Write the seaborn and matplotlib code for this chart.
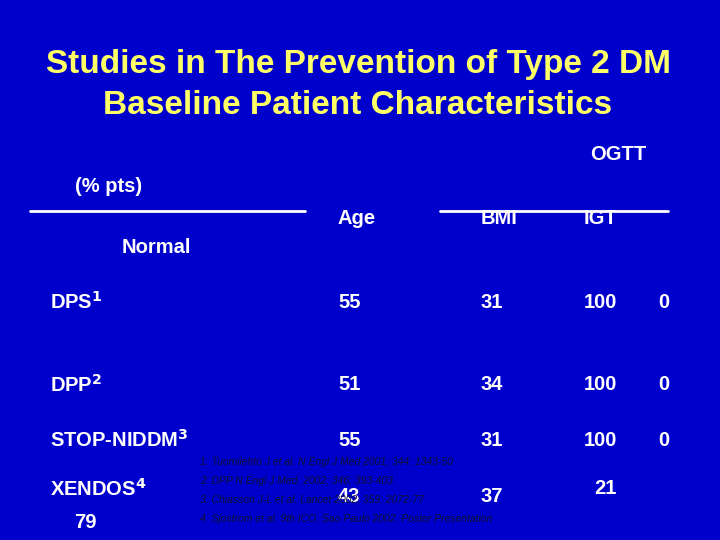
import matplotlib
matplotlib.use("Agg")
import matplotlib.pyplot as plt
import seaborn as sns

sns.set_theme(style="white")
plt.rcParams["font.family"] = "Liberation Sans"

title_lines = ["Studies in The Prevention of Type 2 DM", "Baseline Patient Characteristics"]
columns = ["Age", "BMI", "IGT"]
studies = ["DPS", "DPP", "STOP-NIDDM", "XENDOS"]
refs = ["1", "2", "3", "4"]
age = ["55", "51", "55", "43"]
bmi = ["31", "34", "31", "37"]
igt = ["100", "100", "100", "21"]
normal = ["0", "0", "0", "79"]
footnotes = [
    "1. Tuomilehto J et al. N Engl J Med 2001; 344: 1343-50",
    "2. DPP N Engl J Med. 2002; 346: 393-403",
    "3. Chiasson J-L et al. Lancet 2002; 359: 2072-77",
    "4. Sjostrom et al. 9th ICO, Sao Paulo 2002. Poster Presentation",
]

W, H = 720, 540
fig = plt.figure(figsize=(7.2, 5.4), dpi=100)
fig.patch.set_facecolor("#0000CC")


def px(x, y, s, **kw):
    fig.text(x / W, 1 - y / H, s, **kw)


yellow = "#FFFF66"
for i, t in enumerate(title_lines):
    px(358, 64 + i * 42, t, color=yellow, fontsize=24, fontweight="bold", ha="center", va="center")

body = dict(color="white", fontsize=14.5, va="center", fontweight="bold")
px(590, 155, "OGTT", **body)
px(75, 187, "(% pts)", **body)
px(122, 247, "Normal", **body)
for x, c in zip([338, 481, 584], columns):
    px(x, 218, c, **body)

ax = fig.add_axes([0, 0, 1, 1])
ax.set_xlim(0, W)
ax.set_ylim(H, 0)
ax.axis("off")
ax.plot([30, 305], [211, 211], color="white", lw=2)
ax.plot([440, 668], [211, 211], color="white", lw=2)

row_y = [302, 385, 440, 493]
for i, y in enumerate(row_y):
    name_y = y - 4 if i == 3 else y
    px(50, name_y, f"{studies[i]}$^{{\\mathbf{{{refs[i]}}}}}$", **body)
    dy = 3 if i == 3 else 0
    px(338, y + dy, age[i], **body)
    px(481, y + dy, bmi[i], **body)
    if i == 3:
        px(594, y - 4, igt[i], **body)
        px(74, 522, normal[i], **body)
    else:
        px(584, y, igt[i], **body)
        px(658, y, normal[i], **body)

for i, f in enumerate(footnotes):
    px(200, 462 + i * 19, f, color="#111133", fontsize=7.5, style="italic", va="center")

fig.savefig("out.png", dpi=100, facecolor=fig.get_facecolor())
